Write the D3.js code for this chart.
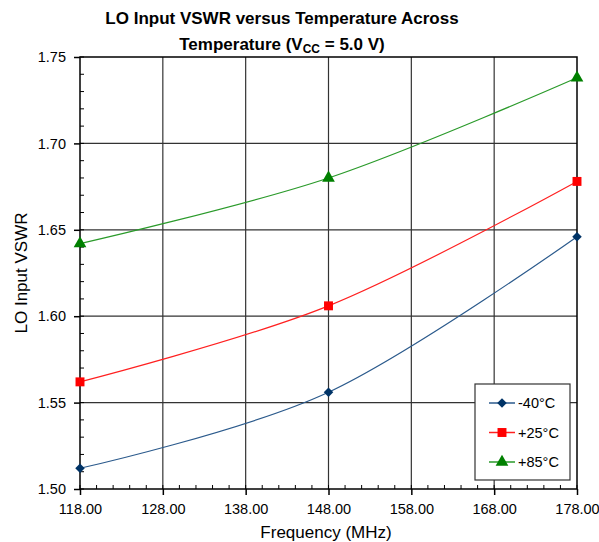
<!DOCTYPE html>
<html>
<head>
<meta charset="utf-8">
<script src="https://cdn.jsdelivr.net/npm/d3@7"></script>
<style>
body { margin: 0; background: #fff; }
text { font-family: "Liberation Sans", Arial, sans-serif; }
</style>
</head>
<body>
<div id="chart"></div>
<script>
const frequencies = [118, 148, 178];
const seriesNames = ["-40°C", "+25°C", "+85°C"];
const vswrMinus40 = [1.512, 1.556, 1.646];
const vswrPlus25 = [1.562, 1.606, 1.678];
const vswrPlus85 = [1.642, 1.680, 1.738];
const xTicks = [118, 128, 138, 148, 158, 168, 178];
const yTicks = [1.50, 1.55, 1.60, 1.65, 1.70, 1.75];

const width = 599, height = 542;
const plotLeft = 80, plotRight = 577, plotTop = 57, plotBottom = 489;

// diamond = square turned 45 degrees
const series = [
    {name: seriesNames[0], values: vswrMinus40, line: "#2b5a8c", fill: "#003366", shape: d3.symbolSquare, size: 45, rot: 45},
    {name: seriesNames[1], values: vswrPlus25, line: "#ff2020", fill: "#ff0000", shape: d3.symbolSquare, size: 80, rot: 0},
    {name: seriesNames[2], values: vswrPlus85, line: "#2a9a2a", fill: "#008000", shape: d3.symbolTriangle, size: 70, rot: 0}
];

const xScale = d3.scaleLinear().domain([118, 178]).range([plotLeft, plotRight]);
const yScale = d3.scaleLinear().domain([1.50, 1.75]).range([plotBottom, plotTop]);

const svg = d3.select("#chart").append("svg")
    .attr("width", width)
    .attr("height", height);

// grid
svg.append("g")
    .selectAll("line")
    .data(xTicks.slice(1, -1))
    .enter()
    .append("line")
    .attr("x1", d => xScale(d)).attr("x2", d => xScale(d))
    .attr("y1", plotTop).attr("y2", plotBottom)
    .attr("stroke", "#333").attr("stroke-width", 1.2);

svg.append("g")
    .selectAll("line")
    .data(yTicks.slice(1, -1))
    .enter()
    .append("line")
    .attr("x1", plotLeft).attr("x2", plotRight)
    .attr("y1", d => yScale(d)).attr("y2", d => yScale(d))
    .attr("stroke", "#333").attr("stroke-width", 1.2);

// frame
svg.append("rect")
    .attr("x", plotLeft).attr("y", plotTop)
    .attr("width", plotRight - plotLeft).attr("height", plotBottom - plotTop)
    .attr("fill", "none").attr("stroke", "#000").attr("stroke-width", 1.5);

// minor ticks (inside)
const xMinor = d3.range(118, 178.01, 2);
svg.append("g")
    .selectAll("line")
    .data(xMinor)
    .enter()
    .append("line")
    .attr("x1", d => xScale(d)).attr("x2", d => xScale(d))
    .attr("y1", plotBottom).attr("y2", plotBottom - 4)
    .attr("stroke", "#000");

const yMinor = d3.range(1.50, 1.7501, 0.01);
svg.append("g")
    .selectAll("line")
    .data(yMinor)
    .enter()
    .append("line")
    .attr("x1", plotLeft).attr("x2", plotLeft + 4)
    .attr("y1", d => yScale(d)).attr("y2", d => yScale(d))
    .attr("stroke", "#000");

// axes
const xAxis = svg.append("g")
    .attr("transform", `translate(0,${plotBottom})`)
    .call(d3.axisBottom(xScale).tickValues(xTicks).tickFormat(d3.format(".2f")).tickSize(6).tickSizeOuter(0).tickPadding(9));
xAxis.select(".domain").remove();
xAxis.selectAll("text").attr("font-size", 14.5).attr("fill", "#000")
    .attr("font-family", "'Liberation Sans', Arial, sans-serif");
xAxis.selectAll("line").attr("stroke-width", 1.5);

const yAxis = svg.append("g")
    .attr("transform", `translate(${plotLeft},0)`)
    .call(d3.axisLeft(yScale).tickValues(yTicks).tickFormat(d3.format(".2f")).tickSize(6).tickSizeOuter(0).tickPadding(8));
yAxis.select(".domain").remove();
yAxis.selectAll("text").attr("font-size", 14.5).attr("fill", "#000")
    .attr("font-family", "'Liberation Sans', Arial, sans-serif");
yAxis.selectAll("line").attr("stroke-width", 1.5);

// lines
const lineGraph = d3.line()
    .x((d, i) => xScale(frequencies[i]))
    .y(d => yScale(d))
    .curve(d3.curveCardinal.tension(0));

series.forEach(s =>
{
    svg.append("path")
        .datum(s.values)
        .attr("fill", "none")
        .attr("stroke", s.line)
        .attr("stroke-width", 1.2)
        .attr("d", lineGraph);

    svg.append("g")
        .selectAll("path")
        .data(s.values)
        .enter()
        .append("path")
        .attr("transform", (d, i) => `translate(${xScale(frequencies[i])},${yScale(d)}) rotate(${s.rot})`)
        .attr("d", d3.symbol().type(s.shape).size(s.size))
        .attr("fill", s.fill);
});

// legend
const legend = svg.append("g").attr("transform", "translate(475,384)");
legend.append("rect")
    .attr("width", 95).attr("height", 96)
    .attr("fill", "#fff").attr("stroke", "#333").attr("stroke-width", 1.2);
series.forEach((s, i) =>
{
    const y = 19 + i * 29.5;
    legend.append("line")
        .attr("x1", 14).attr("x2", 40).attr("y1", y).attr("y2", y)
        .attr("stroke", s.line).attr("stroke-width", 1.5);
    legend.append("path")
        .attr("transform", `translate(27,${y}) rotate(${s.rot})`)
        .attr("d", d3.symbol().type(s.shape).size(s.size))
        .attr("fill", s.fill);
    legend.append("text")
        .attr("x", 43).attr("y", y + 5)
        .attr("font-size", 14.5)
        .text(s.name);
});

// title
const title = svg.append("text")
    .attr("x", 282).attr("y", 24)
    .attr("text-anchor", "middle")
    .attr("font-size", 17).attr("font-weight", "bold");
title.append("tspan").text("LO Input VSWR versus Temperature Across");
const title2 = svg.append("text")
    .attr("x", 282).attr("y", 50)
    .attr("text-anchor", "middle")
    .attr("font-size", 17).attr("font-weight", "bold");
title2.append("tspan").text("Temperature (V");
title2.append("tspan").attr("font-size", 12).attr("dy", 3).text("CC");
title2.append("tspan").attr("dy", -3).text(" = 5.0 V)");

// axis labels
svg.append("text")
    .attr("x", 326).attr("y", 538)
    .attr("text-anchor", "middle")
    .attr("font-size", 17)
    .text("Frequency (MHz)");

svg.append("text")
    .attr("transform", "rotate(-90)")
    .attr("x", -273).attr("y", 27)
    .attr("text-anchor", "middle")
    .attr("font-size", 17)
    .text("LO Input VSWR");
</script>
</body>
</html>
